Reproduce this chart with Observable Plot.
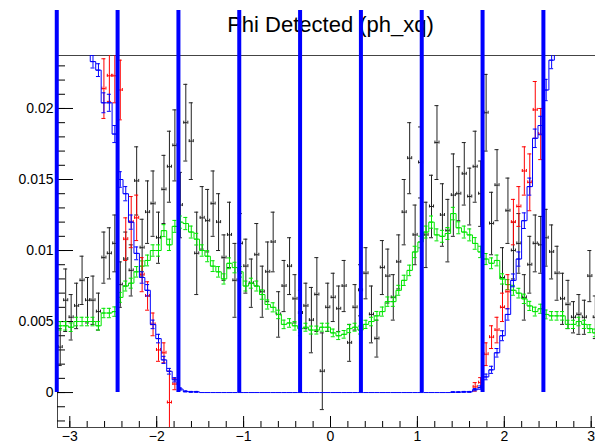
<!DOCTYPE html>
<html>
<head>
<meta charset="utf-8">
<script src="https://cdn.jsdelivr.net/npm/d3@7"></script>
<script src="https://cdn.jsdelivr.net/npm/@observablehq/plot@0.6"></script>
<style>
  html, body { margin: 0; padding: 0; overflow: hidden; background: #fff; }
  #chart svg { display: block; max-width: none !important; }
</style>
</head>
<body>
<div id="chart"></div>
<script>
// ---------------- data (bin contents in units of 1e-3) ----------------
const SCALE = 1e-3;
const nBins = 100;
const xMin = -Math.PI, xMax = Math.PI;

const titleText = "Phi Detected (ph_xq)";

const xTicks = [-3, -2, -1, 0, 1, 2, 3];
const xTickLabels = ["−3", "−2", "−1", "0", "1", "2", "3"];
const yTicks = [0, 0.005, 0.01, 0.015, 0.02];
const yTickLabels = ["0", "0.005", "0.01", "0.015", "0.02"];

const cutLines = [-3.15, -2.45, -1.75, -1.05, -0.35, 0.35, 1.05, 1.75, 2.45, 3.15];
const cutLineTop = 0.0269;

const blackVal = [3.2,6.5,5.3,6.1,7.9,6.5,6.5,5.7,9.5,9.8,
  10.5,7.6,9.4,8.6,14.9,10.2,12.7,13.3,10.9,14.3,
  15.9,17.4,13.2,19.0,17.7,9.8,12.3,12.1,13.3,12.0,
  9.5,11.1,7.9,10.5,8.9,7.7,9.7,7.1,8.5,10.6,
  5.5,7.5,8.9,6.6,5.6,6.1,5.1,6.9,1.5,6.0,
  6.7,5.9,7.5,3.5,6.0,7.2,8.4,5.5,3.8,8.8,
  8.2,6.7,9.2,12.7,16.5,11.1,16.2,11.1,13.1,17.6,
  12.5,11.4,13.9,14.0,15.4,13.8,15.9,14.0,19.7,11.9,
  14.6,8.1,12.8,10.0,10.5,6.7,9.0,10.5,10.4,10.9,
  9.9,8.4,6.6,6.2,5.3,5.5,5.3,8.2,5.3,null];
const blackErr = [1.3,2.2,1.6,1.6,1.7,1.6,1.7,1.3,1.8,1.8,
  2.0,1.6,1.9,1.8,2.4,2.0,2.2,2.3,1.8,2.4,
  2.5,2.5,2.3,2.7,2.7,2.9,2.2,2.2,2.3,2.0,
  1.6,2.3,2.6,2.1,1.9,1.7,2.2,1.8,2.1,2.1,
  1.6,1.8,2.0,1.7,1.6,1.6,2.3,2.6,2.7,1.7,
  1.7,1.6,1.8,1.3,1.6,1.8,1.8,2.0,1.3,1.9,
  1.9,1.6,1.9,2.3,2.5,2.1,2.5,2.3,2.2,2.6,
  2.2,2.2,2.9,1.9,2.2,2.0,2.5,2.3,2.7,2.2,
  2.5,2.1,2.3,2.0,2.1,1.6,2.0,2.0,2.0,2.0,
  1.9,1.9,1.8,1.7,1.1,1.4,1.2,1.8,1.5,null];

const greenVal = [4.7,4.7,4.6,5.0,5.0,5.0,5.0,4.7,5.6,5.6,
  5.7,6.7,7.5,7.7,8.5,8.9,9.3,10.0,10.0,11.4,
  10.4,11.7,12.0,11.9,11.3,10.8,10.0,9.6,8.9,8.5,
  8.0,9.1,8.8,8.5,7.5,7.7,7.5,6.9,6.2,6.0,
  5.5,4.8,4.9,4.7,4.5,4.6,4.4,4.4,4.6,4.6,
  4.2,4.0,4.1,4.5,4.6,4.4,4.8,5.0,5.4,5.7,
  6.4,6.4,7.2,7.9,8.6,9.9,10.6,11.3,12.0,11.1,
  11.0,11.2,12.6,11.6,11.3,11.1,10.5,9.9,9.4,9.1,
  9.3,8.0,7.6,7.2,7.0,6.6,6.1,5.7,5.9,5.5,
  5.4,5.4,5.4,4.8,4.8,5.0,4.8,4.5,4.2,4.3];
const greenErr = [0.3,0.3,0.3,0.3,0.3,0.3,0.3,0.3,0.33,0.33,
  0.33,0.35,0.35,0.35,0.37,0.37,0.38,0.4,0.4,0.42,
  0.4,0.42,0.43,0.43,0.42,0.41,0.4,0.39,0.38,0.37,
  0.36,0.38,0.37,0.37,0.35,0.35,0.35,0.33,0.32,0.32,
  0.3,0.3,0.3,0.3,0.28,0.28,0.28,0.28,0.28,0.28,
  0.27,0.27,0.27,0.28,0.28,0.28,0.29,0.3,0.31,0.32,
  0.33,0.33,0.35,0.36,0.37,0.4,0.41,0.42,0.43,0.42,
  0.42,0.42,0.44,0.42,0.42,0.42,0.41,0.4,0.39,0.38,
  0.38,0.36,0.35,0.35,0.34,0.33,0.32,0.31,0.32,0.31,
  0.3,0.3,0.3,0.29,0.29,0.3,0.29,0.28,0.27,0.28];

const blueVal = [null,null,null,null,null,25.0,23.3,22.7,20.4,20.4,
  18.2,15.0,14.0,12.0,9.8,8.1,7.2,4.8,3.8,2.3,
  1.5,0.9,0.25,0.08,0.05,0.05,0,0,0,0,
  0,0,0,0,0,0,0,0,0,0,
  0,0,0,0,0,0,0,0,0,0,
  0,0,0,0,0,0,0,0,0,0,
  0,0,0,0,0,0,0,0,0,0,
  0,0,0.03,0.03,0.05,0.05,0.2,0.35,1.1,1.6,
  2.8,4.0,5.5,7.9,9.4,12.1,14.5,17.9,18.8,21.3,
  23.4,25.0,null,null,null,null,null,null,null,null];
const blueErr = [null,null,null,null,null,0.5,0.45,0.45,0.7,0.6,
  0.6,0.55,0.5,0.5,0.45,0.4,0.4,0.3,0.3,0.25,
  0.2,0.15,0.08,0.04,0.03,0.03,0,0,0,0,
  0,0,0,0,0,0,0,0,0,0,
  0,0,0,0,0,0,0,0,0,0,
  0,0,0,0,0,0,0,0,0,0,
  0,0,0,0,0,0,0,0,0,0,
  0,0,0.02,0.02,0.03,0.03,0.08,0.12,0.2,0.25,
  0.3,0.35,0.4,0.45,0.5,0.55,0.6,0.65,0.65,0.75,
  0.6,0.6,null,null,null,null,null,null,null,null];

const redBins = [8,9,10,11,12,13,14,15,16,17,18,19,20,21,76,77,78,79,80,81,82,83,84,85,86,87,88];
const redVal = [21.4,22.3,22.3,21.3,10.8,12.0,12.3,8.3,6.8,4.8,3.0,2.8,-0.7,0.6,0.4,0.7,2.7,3.9,4.4,6.0,7.1,12.0,13.1,15.6,14.8,19.9,18.2];
const redErr = [2.1,1.8,1.9,2.1,1.5,1.8,1.6,1.2,1.0,0.8,0.8,0.7,2.2,0.4,0.3,0.35,0.8,0.8,0.9,1.0,1.2,1.6,1.4,1.7,2.0,2.0,1.8];

// ---------------- layout ----------------
const yMin = -0.00246, yMax = 0.02373;
const W = 605, H = 444;
const mL = 57, mR = 2, mT = 55, mB = 17;
const frameW = W - mL - mR, frameH = H - mT - mB;
const xPx = frameW / (xMax - xMin), yPx = frameH / (yMax - yMin);
const capX = 2 / xPx, capY = 1.5 / yPx, barIn = 0.7 / xPx;

const binEdges = d3.range(nBins + 1).map(i => xMin + i * (xMax - xMin) / nBins);
const centers = d3.range(nBins).map(i => (binEdges[i] + binEdges[i + 1]) / 2);

function binPoints(bins, vals, errs) {
  return bins.map((b, k) => ({b, v: vals[k], e: errs[k]}))
    .filter(d => d.v != null)
    .map(d => ({
      x: centers[d.b], x1: binEdges[d.b], x2: binEdges[d.b + 1],
      y: d.v * SCALE, lo: (d.v - d.e) * SCALE, hi: (d.v + d.e) * SCALE, v: d.v
    }));
}
function stepPoints(pts) {
  const s = pts.map(d => ({x: d.x1, y: d.y}));
  const last = pts[pts.length - 1];
  s.push({x: last.x2, y: last.y});
  return s;
}
function errorMarks(pts, color, endTicks) {
  const o = {stroke: color, strokeWidth: 1, clip: true};
  const m = [
    Plot.ruleY(pts, {y: "y", x1: d => d.x1 + barIn, x2: d => d.x2 - barIn, ...o}),
    Plot.ruleX(pts, {x: "x", y1: "lo", y2: "hi", ...o}),
    Plot.ruleY(pts, {y: "hi", x1: d => d.x - capX, x2: d => d.x + capX, ...o}),
    Plot.ruleY(pts, {y: "lo", x1: d => d.x - capX, x2: d => d.x + capX, ...o})
  ];
  if (endTicks) {
    m.push(Plot.ruleX(pts, {x: d => d.x1 + barIn, y1: d => d.y - capY, y2: d => d.y + capY, ...o}));
    m.push(Plot.ruleX(pts, {x: d => d.x2 - barIn, y1: d => d.y - capY, y2: d => d.y + capY, ...o}));
  }
  return m;
}

const allBins = d3.range(nBins);
const blackPts = binPoints(allBins, blackVal, blackErr);
const greenPts = binPoints(allBins, greenVal, greenErr);
const bluePts = binPoints(allBins, blueVal, blueErr);
const redPts = binPoints(redBins, redVal, redErr);

const yMinor = d3.range(-2, 24).map(k => k / 1000);
const xMinor = d3.range(-15, 16).map(k => k / 5);

const colBlack = "#222222", colRed = "#ff0000", colBlue = "#0000ff", colGreen = "#00e600";

const chart = Plot.plot({
  width: W, height: H,
  marginLeft: mL, marginRight: mR, marginTop: mT, marginBottom: mB,
  style: {fontFamily: "'Liberation Sans', Arial, Helvetica, sans-serif", fontSize: "14px", background: "#fff", color: "#000", overflow: "visible", maxWidth: "none"},
  x: {domain: [xMin, xMax], ticks: xTicks, tickSize: 0, tickPadding: 4,
      tickFormat: d => xTickLabels[xTicks.indexOf(d)], label: null},
  y: {domain: [yMin, yMax], ticks: yTicks, tickSize: 0, tickPadding: 4,
      tickFormat: d => yTickLabels[yTicks.indexOf(d)], label: null},
  marks: [
    Plot.text([titleText], {frameAnchor: "top", dy: -24, lineAnchor: "bottom", fontSize: 22, fill: "#000"}),
    Plot.frame({stroke: "#444", strokeWidth: 1}),
    Plot.ruleY(yMinor, {insetRight: frameW - 8, stroke: "#000"}),
    Plot.ruleY(yTicks, {insetRight: frameW - 16, stroke: "#000"}),
    Plot.ruleX(xMinor, {insetTop: frameH - 6, stroke: "#000"}),
    Plot.ruleX(xTicks, {insetTop: frameH - 11, stroke: "#000"}),
    ...errorMarks(blackPts, colBlack, true),
    Plot.line(stepPoints(greenPts), {x: "x", y: "y", curve: "step-after", stroke: colGreen, strokeWidth: 1, clip: true}),
    ...errorMarks(greenPts, colGreen, false),
    ...errorMarks(redPts, colRed, true),
    Plot.line(stepPoints(bluePts), {x: "x", y: "y", curve: "step-after", stroke: colBlue, strokeWidth: 1, clip: true}),
    ...errorMarks(bluePts.filter(d => d.v > 0), colBlue, false),
    Plot.ruleX(cutLines, {y1: 0, y2: cutLineTop, stroke: colBlue, strokeWidth: 4})
  ]
});
document.getElementById("chart").appendChild(chart);
</script>
</body>
</html>
